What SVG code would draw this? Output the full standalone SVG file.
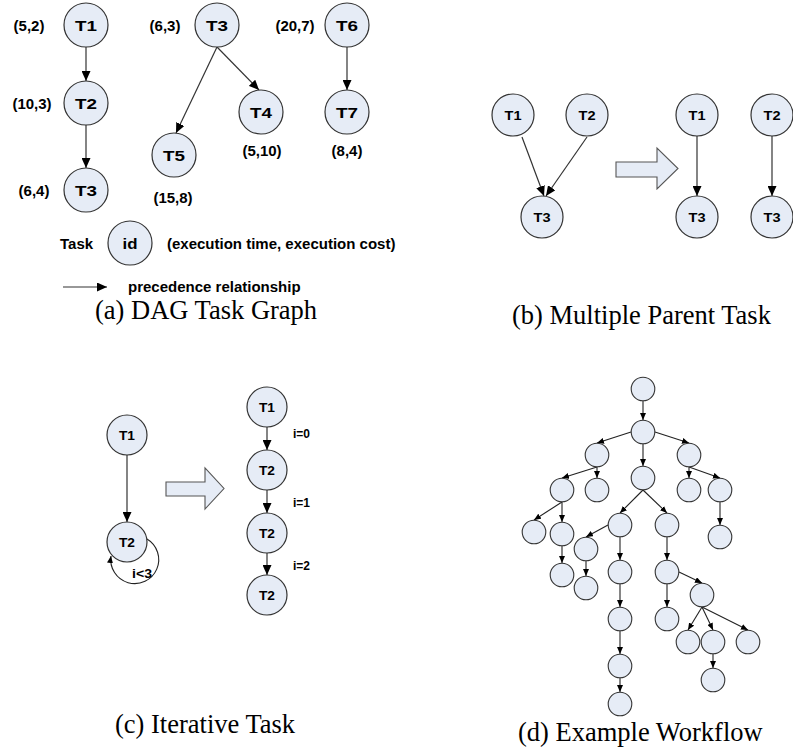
<svg xmlns="http://www.w3.org/2000/svg" width="793" height="754" viewBox="0 0 793 754">
  <defs>
    <style>
      .node { fill: #E6ECF6; stroke: #333; stroke-width: 1.2; }
      .small { fill: #E6ECF6; stroke: #333; stroke-width: 1.1; }
      .lbl { font-family: "Liberation Sans", Arial, sans-serif; font-weight: bold; fill: #000; }
      .cap { font-family: "Liberation Serif", "Times New Roman", serif; font-size: 26.5px; fill: #000; }
      .edge { stroke: #333; stroke-width: 1.2; fill: none; marker-end: url(#ah); }
      .edge-d { stroke: #222; stroke-width: 1.1; fill: none; marker-end: url(#ahs); }
      .block { fill: #E6ECF6; stroke: #555; stroke-width: 1.1; }
    </style>
    <marker id="ah" markerUnits="userSpaceOnUse" markerWidth="10" markerHeight="9" refX="10" refY="4.5" orient="auto">
      <path d="M0,0 L10,4.5 L0,9 z" fill="#000"/>
    </marker>
    <marker id="ahs" markerUnits="userSpaceOnUse" markerWidth="7" markerHeight="6" refX="7" refY="3" orient="auto">
      <path d="M0,0 L7,3 L0,6 z" fill="#000"/>
    </marker>
  </defs>

  <rect width="793" height="754" fill="#fff"/>

  <!-- connectors -->
  <g id="connectors">
    <!-- (a) DAG -->
    <line class="edge" x1="86" y1="47" x2="86" y2="81"/>
    <line class="edge" x1="86" y1="125" x2="86" y2="168"/>
    <line class="edge" x1="217" y1="47" x2="176" y2="133"/>
    <line class="edge" x1="217" y1="47" x2="259" y2="90"/>
    <line class="edge" x1="347" y1="47" x2="347" y2="90"/>
    <line class="edge" x1="63" y1="287" x2="107" y2="287"/>
    <!-- (b) multiple parents -->
    <line class="edge" x1="522" y1="137" x2="544" y2="196"/>
    <line class="edge" x1="587" y1="137" x2="546" y2="196"/>
    <line class="edge" x1="697" y1="136" x2="697" y2="196"/>
    <line class="edge" x1="772" y1="136" x2="772" y2="196"/>
    <!-- (c) iteration -->
    <line class="edge" x1="127" y1="455" x2="127" y2="522"/>
    <path d="M147,539 A24,24 0 1 1 111,556" stroke="#222" stroke-width="1.1" fill="none" marker-end="url(#ahs)"/>
    <line class="edge" x1="267" y1="427" x2="267" y2="450"/>
    <line class="edge" x1="267" y1="490" x2="267" y2="513"/>
    <line class="edge" x1="267" y1="553" x2="267" y2="575"/>
    <!-- (d) workflow -->
    <line class="edge-d" x1="643" y1="401" x2="643" y2="420"/>
    <line class="edge-d" x1="631" y1="432" x2="597" y2="443"/>
    <line class="edge-d" x1="643" y1="444" x2="643" y2="466"/>
    <line class="edge-d" x1="655" y1="432" x2="689" y2="443"/>
    <line class="edge-d" x1="597" y1="467" x2="562" y2="478"/>
    <line class="edge-d" x1="597" y1="467" x2="597" y2="478"/>
    <line class="edge-d" x1="689" y1="467" x2="689" y2="478"/>
    <line class="edge-d" x1="689" y1="467" x2="720" y2="478"/>
    <line class="edge-d" x1="562" y1="502" x2="534" y2="520"/>
    <line class="edge-d" x1="562" y1="502" x2="562" y2="522"/>
    <line class="edge-d" x1="643" y1="490" x2="620" y2="513"/>
    <line class="edge-d" x1="643" y1="490" x2="667" y2="513"/>
    <line class="edge-d" x1="608" y1="525" x2="586" y2="537"/>
    <line class="edge-d" x1="620" y1="537" x2="620" y2="560"/>
    <line class="edge-d" x1="667" y1="537" x2="667" y2="560"/>
    <line class="edge-d" x1="720" y1="502" x2="720" y2="525"/>
    <line class="edge-d" x1="562" y1="546" x2="562" y2="563"/>
    <line class="edge-d" x1="586" y1="561" x2="586" y2="576"/>
    <line class="edge-d" x1="679" y1="572" x2="702" y2="583"/>
    <line class="edge-d" x1="667" y1="584" x2="667" y2="607"/>
    <line class="edge-d" x1="620" y1="584" x2="620" y2="607"/>
    <line class="edge-d" x1="702" y1="607" x2="688" y2="630"/>
    <line class="edge-d" x1="702" y1="607" x2="713" y2="630"/>
    <line class="edge-d" x1="702" y1="607" x2="748" y2="630"/>
    <line class="edge-d" x1="620" y1="631" x2="620" y2="654"/>
    <line class="edge-d" x1="713" y1="654" x2="713" y2="668"/>
    <line class="edge-d" x1="620" y1="678" x2="620" y2="692"/>
  </g>

  <!-- (a) DAG task graph -->
  <g id="a-t1"><circle class="node" cx="86" cy="25" r="22"/><text class="lbl" x="86" y="30.5" font-size="15" text-anchor="middle" textLength="22" lengthAdjust="spacingAndGlyphs">T1</text></g>
  <g id="a-t2"><circle class="node" cx="86" cy="103" r="22"/><text class="lbl" x="86" y="108.5" font-size="15" text-anchor="middle" textLength="22" lengthAdjust="spacingAndGlyphs">T2</text></g>
  <g id="a-t3"><circle class="node" cx="86" cy="190" r="22"/><text class="lbl" x="86" y="195.5" font-size="15" text-anchor="middle" textLength="22" lengthAdjust="spacingAndGlyphs">T3</text></g>
  <g id="a-t3b"><circle class="node" cx="217" cy="25" r="22"/><text class="lbl" x="217" y="30.5" font-size="15" text-anchor="middle" textLength="22" lengthAdjust="spacingAndGlyphs">T3</text></g>
  <g id="a-t4"><circle class="node" cx="261" cy="112" r="22"/><text class="lbl" x="261" y="117.5" font-size="15" text-anchor="middle" textLength="22" lengthAdjust="spacingAndGlyphs">T4</text></g>
  <g id="a-t5"><circle class="node" cx="174" cy="155" r="22"/><text class="lbl" x="174" y="160.5" font-size="15" text-anchor="middle" textLength="22" lengthAdjust="spacingAndGlyphs">T5</text></g>
  <g id="a-t6"><circle class="node" cx="347" cy="25" r="22"/><text class="lbl" x="347" y="30.5" font-size="15" text-anchor="middle" textLength="22" lengthAdjust="spacingAndGlyphs">T6</text></g>
  <g id="a-t7"><circle class="node" cx="347" cy="112" r="22"/><text class="lbl" x="347" y="117.5" font-size="15" text-anchor="middle" textLength="22" lengthAdjust="spacingAndGlyphs">T7</text></g>

  <g id="a-labels" class="lbl" font-size="15" text-anchor="middle">
    <text x="29" y="30.5">(5,2)</text>
    <text x="32" y="108.5">(10,3)</text>
    <text x="34" y="195.5">(6,4)</text>
    <text x="165" y="30.5">(6,3)</text>
    <text x="295" y="30.5">(20,7)</text>
    <text x="262" y="155.5">(5,10)</text>
    <text x="347" y="155.5">(8,4)</text>
    <text x="173" y="202.5">(15,8)</text>
  </g>

  <!-- legend -->
  <g id="legend">
    <text class="lbl" x="60" y="248.5" font-size="15">Task</text>
    <circle class="node" cx="130" cy="243" r="22"/>
    <text class="lbl" x="130" y="248.5" font-size="15" text-anchor="middle" textLength="15" lengthAdjust="spacingAndGlyphs">id</text>
    <text class="lbl" x="167" y="248.5" font-size="15">(execution time, execution cost)</text>
    <text class="lbl" x="128" y="291.5" font-size="15">precedence relationship</text>
  </g>

  <!-- (b) multiple parent task -->
  <g id="b-t1"><circle class="node" cx="513" cy="115" r="21"/><text class="lbl" x="513" y="119.5" font-size="12.5" text-anchor="middle" textLength="17" lengthAdjust="spacingAndGlyphs">T1</text></g>
  <g id="b-t2"><circle class="node" cx="587" cy="115" r="21"/><text class="lbl" x="587" y="119.5" font-size="12.5" text-anchor="middle" textLength="17" lengthAdjust="spacingAndGlyphs">T2</text></g>
  <g id="b-t3"><circle class="node" cx="542" cy="217" r="21"/><text class="lbl" x="542" y="221.5" font-size="12.5" text-anchor="middle" textLength="17" lengthAdjust="spacingAndGlyphs">T3</text></g>
  <g id="b-arrow"><polygon class="block" points="616,162 657,162 657,148 678,168.5 657,189 657,177 616,177"/></g>
  <g id="b-t1r"><circle class="node" cx="697" cy="115" r="21"/><text class="lbl" x="697" y="119.5" font-size="12.5" text-anchor="middle" textLength="17" lengthAdjust="spacingAndGlyphs">T1</text></g>
  <g id="b-t3r"><circle class="node" cx="697" cy="217" r="21"/><text class="lbl" x="697" y="221.5" font-size="12.5" text-anchor="middle" textLength="17" lengthAdjust="spacingAndGlyphs">T3</text></g>
  <g id="b-t2r"><circle class="node" cx="772" cy="115" r="21"/><text class="lbl" x="772" y="119.5" font-size="12.5" text-anchor="middle" textLength="17" lengthAdjust="spacingAndGlyphs">T2</text></g>
  <g id="b-t3r2"><circle class="node" cx="772" cy="217" r="21"/><text class="lbl" x="772" y="221.5" font-size="12.5" text-anchor="middle" textLength="17" lengthAdjust="spacingAndGlyphs">T3</text></g>

  <!-- (c) iterative task -->
  <g id="c-t1"><circle class="node" cx="127" cy="435" r="20"/><text class="lbl" x="127" y="439.5" font-size="12" text-anchor="middle" textLength="16" lengthAdjust="spacingAndGlyphs">T1</text></g>
  <g id="c-t2"><circle class="node" cx="127" cy="542" r="20"/><text class="lbl" x="127" y="546.5" font-size="12" text-anchor="middle" textLength="16" lengthAdjust="spacingAndGlyphs">T2</text></g>
  <text class="lbl" x="132" y="578" font-size="12.5" textLength="20" lengthAdjust="spacingAndGlyphs">i&lt;3</text>
  <g id="c-arrow"><polygon class="block" points="166,482 205,482 205,468 224,488.5 205,509 205,496 166,496"/></g>
  <g id="c-r1"><circle class="node" cx="267" cy="407" r="20"/><text class="lbl" x="267" y="411.5" font-size="12" text-anchor="middle" textLength="16" lengthAdjust="spacingAndGlyphs">T1</text></g>
  <g id="c-r2"><circle class="node" cx="267" cy="470" r="20"/><text class="lbl" x="267" y="474.5" font-size="12" text-anchor="middle" textLength="16" lengthAdjust="spacingAndGlyphs">T2</text></g>
  <g id="c-r3"><circle class="node" cx="267" cy="533" r="20"/><text class="lbl" x="267" y="537.5" font-size="12" text-anchor="middle" textLength="16" lengthAdjust="spacingAndGlyphs">T2</text></g>
  <g id="c-r4"><circle class="node" cx="267" cy="595" r="20"/><text class="lbl" x="267" y="599.5" font-size="12" text-anchor="middle" textLength="16" lengthAdjust="spacingAndGlyphs">T2</text></g>
  <g id="c-iters" class="lbl" font-size="12.5">
    <text x="293" y="437.5" textLength="17" lengthAdjust="spacingAndGlyphs">i=0</text>
    <text x="293" y="506.5" textLength="17" lengthAdjust="spacingAndGlyphs">i=1</text>
    <text x="293" y="569.5" textLength="17" lengthAdjust="spacingAndGlyphs">i=2</text>
  </g>

  <!-- (d) example workflow -->
  <g id="d-nodes">
    <g id="d-a"><circle class="small" cx="643" cy="389" r="11.8"/></g>
    <g id="d-b"><circle class="small" cx="643" cy="432" r="11.8"/></g>
    <g id="d-c"><circle class="small" cx="597" cy="455" r="11.8"/></g>
    <g id="d-d"><circle class="small" cx="643" cy="478" r="11.8"/></g>
    <g id="d-e"><circle class="small" cx="689" cy="455" r="11.8"/></g>
    <g id="d-f"><circle class="small" cx="562" cy="490" r="11.8"/></g>
    <g id="d-g"><circle class="small" cx="597" cy="490" r="11.8"/></g>
    <g id="d-h"><circle class="small" cx="689" cy="490" r="11.8"/></g>
    <g id="d-i"><circle class="small" cx="720" cy="490" r="11.8"/></g>
    <g id="d-j"><circle class="small" cx="534" cy="532" r="11.8"/></g>
    <g id="d-k"><circle class="small" cx="562" cy="534" r="11.8"/></g>
    <g id="d-l"><circle class="small" cx="620" cy="525" r="11.8"/></g>
    <g id="d-m"><circle class="small" cx="667" cy="525" r="11.8"/></g>
    <g id="d-n"><circle class="small" cx="586" cy="549" r="11.8"/></g>
    <g id="d-o"><circle class="small" cx="720" cy="537" r="11.8"/></g>
    <g id="d-p"><circle class="small" cx="562" cy="575" r="11.8"/></g>
    <g id="d-q"><circle class="small" cx="586" cy="588" r="11.8"/></g>
    <g id="d-r"><circle class="small" cx="620" cy="572" r="11.8"/></g>
    <g id="d-s"><circle class="small" cx="667" cy="572" r="11.8"/></g>
    <g id="d-t"><circle class="small" cx="702" cy="595" r="11.8"/></g>
    <g id="d-u"><circle class="small" cx="620" cy="619" r="11.8"/></g>
    <g id="d-v"><circle class="small" cx="667" cy="619" r="11.8"/></g>
    <g id="d-w"><circle class="small" cx="688" cy="642" r="11.8"/></g>
    <g id="d-x"><circle class="small" cx="713" cy="642" r="11.8"/></g>
    <g id="d-y"><circle class="small" cx="748" cy="642" r="11.8"/></g>
    <g id="d-z"><circle class="small" cx="620" cy="666" r="11.8"/></g>
    <g id="d-aa"><circle class="small" cx="713" cy="680" r="11.8"/></g>
    <g id="d-bb"><circle class="small" cx="620" cy="704" r="11.8"/></g>
  </g>

  <!-- captions -->
  <g id="captions">
    <text class="cap" x="95" y="319">(a) DAG Task Graph</text>
    <text class="cap" x="512" y="324">(b) Multiple Parent Task</text>
    <text class="cap" x="115" y="733">(c) Iterative Task</text>
    <text class="cap" x="518" y="741">(d) Example Workflow</text>
  </g>
</svg>
